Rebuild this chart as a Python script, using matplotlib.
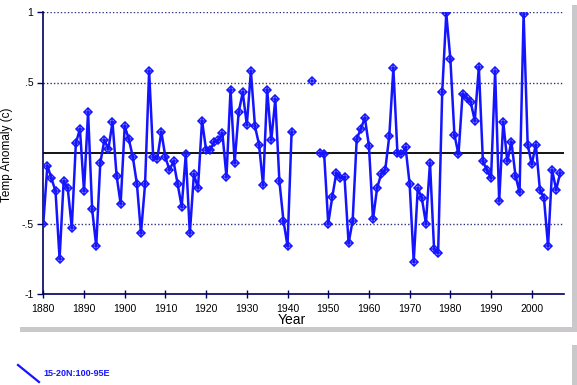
import numpy as np
import matplotlib
matplotlib.use("Agg")
from matplotlib import pyplot as plt
from matplotlib.patches import Rectangle
from matplotlib.lines import Line2D

plt.rcParams['font.family'] = ['Liberation Sans', 'DejaVu Sans']

nan = np.nan
years = list(range(1880, 2008))
anomaly = [
    -0.50, -0.09, -0.18, -0.27, -0.75, -0.20, -0.25, -0.53, 0.07, 0.17,   # 1880s
    -0.27, 0.29, -0.40, -0.66, -0.07, 0.09, 0.03, 0.22, -0.16, -0.36,     # 1890s
    0.19, 0.10, -0.03, -0.22, -0.57, -0.22, 0.58, -0.03, -0.04, 0.15,     # 1900s
    -0.03, -0.12, -0.06, -0.22, -0.38, -0.01, -0.57, -0.15, -0.25, 0.23,  # 1910s
    0.02, 0.02, 0.08, 0.09, 0.14, -0.17, 0.45, -0.07, 0.29, 0.43,         # 1920s
    0.20, 0.58, 0.19, 0.06, -0.23, 0.45, 0.09, 0.38, -0.20, -0.48,        # 1930s
    -0.66, 0.15, nan, nan, nan, nan, 0.51, nan, 0.00, -0.01,              # 1940s
    -0.50, -0.31, -0.14, -0.18, -0.17, -0.64, -0.48, 0.10, 0.17, 0.25,    # 1950s
    0.05, -0.47, -0.25, -0.15, -0.12, 0.12, 0.60, 0.00, -0.01, 0.04,      # 1960s
    -0.22, -0.77, -0.25, -0.32, -0.50, -0.07, -0.68, -0.71, 0.43, 0.99,   # 1970s
    0.67, 0.13, -0.01, 0.42, 0.39, 0.36, 0.23, 0.61, -0.06, -0.12,        # 1980s
    -0.18, 0.58, -0.34, 0.22, -0.06, 0.08, -0.16, -0.28, 0.985, 0.06,     # 1990s
    -0.08, 0.06, -0.26, -0.32, -0.66, -0.12, -0.26, -0.14,                # 2000s
]
yticks = [-1, -0.5, 0.5, 1]
ytick_labels = ['-1', '-.5', '.5', '1']
xticks = list(range(1880, 2001, 10))
series_name = '15-20N:100-95E'

W, H = 577, 385
fig = plt.figure(figsize=(W / 100, H / 100), dpi=100)

# panel frames with grey drop shadow
def box(x0, y0, x1, y1, color):
    fig.patches.append(Rectangle((x0 / W, 1 - y1 / H), (x1 - x0) / W, (y1 - y0) / H,
                                 transform=fig.transFigure, facecolor=color,
                                 edgecolor='none', zorder=-2))

box(20, 5, 577, 332, '#cbc8cb')
box(0, 0, 572, 327, 'white')
box(20, 345, 577, 395, '#cbc8cb')
box(0, 340, 572, 395, 'white')

ax = fig.add_axes([43.3 / W, 1 - 294 / H, (563.5 - 43.3) / W, (294 - 12) / H])
ax.set_facecolor('none')

navy = '#000060'
blue = '#1414ff'

for v in [-1, -0.5, 0.5, 1]:
    ax.axhline(v, color='#303080', lw=1, ls=(0, (1, 1.5)), zorder=1)
ax.axhline(0, color='black', lw=1.3, zorder=1)

ax.plot(years, anomaly, color=blue, lw=1.8, marker='D', ms=4.5, mfc='none',
        mec=blue, mew=1.1, zorder=3)
ax.plot(years, anomaly, ls='none', marker='+', ms=6, mec=blue, mew=1.1, zorder=3)

ax.set_xlim(1880, 2007.8)
ax.set_ylim(-1, 1)
ax.set_xticks(xticks)
ax.set_xticklabels([str(x) for x in xticks], fontsize=7.5)
ax.set_yticks(yticks)
ax.set_yticklabels(ytick_labels, fontsize=7.5)
ax.tick_params(axis='x', direction='inout', length=6, width=1, color=navy, pad=4)
ax.tick_params(axis='y', direction='out', length=4, width=1, color=navy, pad=3)

for s in ['top', 'right']:
    ax.spines[s].set_visible(False)
for s in ['left', 'bottom']:
    ax.spines[s].set_color(navy)
    ax.spines[s].set_linewidth(1.2)

fig.text(7 / W, 1 - 155 / H, 'Temp Anomaly (c)', rotation=90, ha='center', va='center', fontsize=8.5)
fig.text(292 / W, 1 - 320 / H, 'Year', ha='center', va='center', fontsize=10)

# legend
fig.lines.append(Line2D([18 / W, 39 / W], [1 - 365 / H, 1 - 382 / H], transform=fig.transFigure,
                        color=blue, lw=1.6))
fig.text(43 / W, 1 - 373 / H, series_name, ha='left', va='center', fontsize=6.5,
         fontweight='bold', color=blue)

fig.savefig('out.png', dpi=100)
